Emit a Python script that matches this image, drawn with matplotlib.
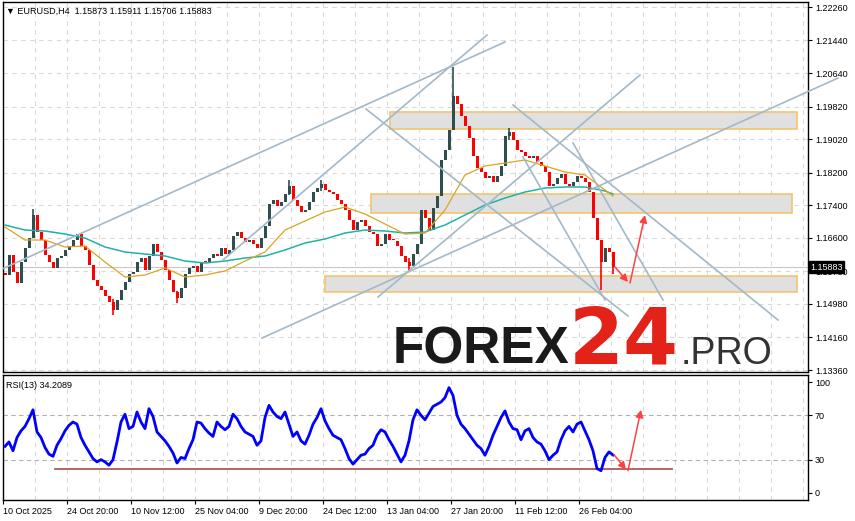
import numpy as np
import matplotlib
matplotlib.use('Agg')
import matplotlib.pyplot as plt
from matplotlib.patches import Rectangle

plt.rcParams['font.family'] = ['Liberation Sans', 'DejaVu Sans']

# H4 closes, one value per 4 bars
first_open = 1.15750
closes = [1.15689, 1.16179, 1.15763, 1.15493, 1.16008, 1.16351, 1.16596, 1.17160, 1.16743, 1.16547,
          1.16179, 1.16008, 1.15861, 1.16106, 1.16155, 1.16302, 1.16400, 1.16547, 1.16694, 1.16400,
          1.16302, 1.15934, 1.15566, 1.15419, 1.15321, 1.15174, 1.15027, 1.14831, 1.15076, 1.15321,
          1.15517, 1.15714, 1.15763, 1.16008, 1.16106, 1.15812, 1.16155, 1.16449, 1.16253, 1.16057,
          1.15812, 1.15566, 1.15272, 1.15125, 1.15370, 1.15714, 1.15861, 1.15910, 1.15763, 1.16008,
          1.15980, 1.16106, 1.16204, 1.16155, 1.16351, 1.16204, 1.16302, 1.16645, 1.16743, 1.16596,
          1.16498, 1.16547, 1.16449, 1.16351, 1.16596, 1.16890, 1.17430, 1.17528, 1.17381, 1.17479,
          1.17675, 1.17871, 1.17528, 1.17381, 1.17234, 1.17283, 1.17479, 1.17724, 1.17822, 1.17920,
          1.17773, 1.17724, 1.17675, 1.17528, 1.17430, 1.17283, 1.17038, 1.16792, 1.16989, 1.17038,
          1.16890, 1.16743, 1.16694, 1.16400, 1.16449, 1.16694, 1.16547, 1.16520, 1.16400, 1.16155,
          1.16008, 1.15910, 1.16204, 1.16449, 1.17283, 1.17087, 1.16792, 1.17332, 1.17626, 1.18509,
          1.18754, 1.19244, 1.20078, 1.19882, 1.19588, 1.19343, 1.19048, 1.18607, 1.18313, 1.18215,
          1.18067, 1.18117, 1.17969, 1.18117, 1.18362, 1.19097, 1.19195, 1.18999, 1.18754, 1.18705,
          1.18607, 1.18558, 1.18607, 1.18460, 1.18362, 1.18215, 1.17871, 1.17920, 1.18067, 1.18166,
          1.17920, 1.17871, 1.17969, 1.18117, 1.18067, 1.17969, 1.17724, 1.17087, 1.16547, 1.16008,
          1.16351, 1.16253, 1.15883]

# visible wicks
wick_idx = [7, 27, 43, 71, 79, 101, 112, 126, 149, 152]
wick_lo = [1.1660, 1.1471, 1.1500, 1.1765, 1.1775, 1.1576, 1.1995, 1.1900, 1.1532, 1.15706]
wick_hi = [1.1730, 1.1510, 1.1530, 1.1802, 1.1802, 1.1610, 1.2079, 1.1929, 1.1655, 1.15911]

# moving averages
ma_idx = list(range(0, 151, 5)) + [152]
ma_fast = [1.16866, 1.16547, 1.16547, 1.16376, 1.16400, 1.16008, 1.15640, 1.15689, 1.15861, 1.15640,
           1.15689, 1.15787, 1.16032, 1.16253, 1.16792, 1.17013, 1.17234, 1.17356, 1.17185, 1.16940,
           1.16694, 1.16719, 1.17283, 1.18141, 1.18362, 1.18435, 1.18509, 1.18362, 1.18215, 1.18141,
           1.17773, 1.17626]
ma_slow = [1.16915, 1.16792, 1.16768, 1.16694, 1.16596, 1.16376, 1.16253, 1.16204, 1.16155, 1.16032,
           1.15983, 1.16032, 1.16106, 1.16155, 1.16302, 1.16474, 1.16572, 1.16719, 1.16792, 1.16768,
           1.16719, 1.16743, 1.16915, 1.17160, 1.17405, 1.17577, 1.17724, 1.17822, 1.17847, 1.17847,
           1.17749, 1.17675]

rsi = [42, 46, 38, 50, 56, 60, 67, 75, 55, 50,
       41, 35, 33, 43, 49, 56, 61, 64, 62, 50,
       43, 37, 31, 28, 30, 28, 25, 30, 46, 64,
       71, 58, 60, 73, 64, 58, 76, 69, 55, 51,
       47, 42, 36, 27, 32, 31, 40, 48, 64, 63,
       58, 54, 51, 64, 60, 57, 60, 71, 67, 60,
       55, 53, 51, 43, 47, 68, 79, 73, 69, 67,
       73, 62, 51, 55, 47, 44, 52, 62, 68, 76,
       65, 58, 52, 50, 48, 40, 31, 26, 30, 34,
       35, 40, 43, 52, 57, 55, 48, 42, 35, 28,
       34, 47, 66, 75, 70, 66, 72, 78, 80, 82,
       86, 95, 88, 70, 62, 58, 53, 48, 43, 40,
       34, 42, 52, 60, 68, 74, 64, 58, 57, 48,
       56, 58, 50, 46, 44, 38, 30, 34, 37, 48,
       56, 60, 55, 62, 64, 56, 48, 38, 22, 20,
       32, 37, 34.2]

# drawn objects (bar index, price)
line_x0 = [-0.5, 54.5, 64.25, 93.25, 90.25, 127, 142, 129.5]
line_y0 = [1.15846, 1.16057, 1.14144, 1.15150, 1.19759, 1.19857, 1.18926, 1.18582]
line_x1 = [125, 120.5, 208.25, 158.75, 155.75, 193.25, 164.5, 150]
line_y1 = [1.21402, 1.21574, 1.20519, 1.20593, 1.14684, 1.14586, 1.15076, 1.15076]

zone_x0 = [96.25, 91.5, 80]
zone_x1 = [198, 196.75, 198]
zone_lo = [1.19269, 1.17209, 1.15272]
zone_hi = [1.19686, 1.17675, 1.15665]

arrow_x0 = [152.5, 156.25]
arrow_y0 = [1.15885, 1.15493]
arrow_x1 = [155.75, 160]
arrow_y1 = [1.15517, 1.17160]

rsi_arrow_x0 = [152.25, 155.75]
rsi_arrow_y0 = [34.5, 20]
rsi_arrow_x1 = [155.25, 159]
rsi_arrow_y1 = [21, 75]
rsi_support = [12.5, 166.75, 21.5]

last_price = 1.15883
price_ticks = [1.22260, 1.21440, 1.20640, 1.19820, 1.19020, 1.18200, 1.17400,
               1.16600, 1.15780, 1.14980, 1.14160, 1.13360]
date_bars = [0, 16, 32, 48, 64, 80, 96, 112, 128, 144]
date_labels = ['10 Oct 2025', '24 Oct 20:00', '10 Nov 12:00', '25 Nov 04:00', '9 Dec 20:00',
               '24 Dec 12:00', '13 Jan 04:00', '27 Jan 20:00', '11 Feb 12:00', '26 Feb 04:00']

W, H = 855, 521
fig = plt.figure(figsize=(W / 100, H / 100), dpi=100)


def box(x0, y0, x1, y1):
    return [x0 / W, 1 - y1 / H, (x1 - x0) / W, (y1 - y0) / H]


ax = fig.add_axes(box(3, 2, 808, 372))
rx = fig.add_axes(box(3, 375, 808, 500))
xlim = (-0.5, 200.75)
grid_pos = np.arange(-0.5, 200, 8)
grid_kw = dict(color='#dadada', lw=0.8, ls=(0, (4, 4)))

# ---- main price panel ----
closes = np.array(closes)
opens = np.concatenate([[first_open], closes[:-1]])
idx = np.arange(len(closes))
up = closes >= opens
cols = np.where(up, '#2f4f4f', '#ff0000')
body = closes - opens
body = np.where(np.abs(body) < 0.0003, 0.0003, body)

for x in grid_pos:
    ax.axvline(x, zorder=0, **grid_kw)
for p in price_ticks:
    ax.axhline(p, zorder=0, **grid_kw)
ax.axhline(last_price, color='#c8c8c8', lw=0.8, zorder=1)

for x0, x1, lo, hi in zip(zone_x0, zone_x1, zone_lo, zone_hi):
    ax.add_patch(Rectangle((x0, lo), x1 - x0, hi - lo, facecolor='#e0e0e0',
                           edgecolor='#f4c46c', lw=1.2, zorder=1))

ax.plot(ma_idx, ma_slow, color='#20b2aa', lw=1.1, zorder=3)
ax.plot(ma_idx, ma_fast, color='#daa520', lw=0.9, zorder=3)

ax.bar(idx, body, bottom=opens, width=0.75, color=cols, zorder=2)
for i, lo, hi in zip(wick_idx, wick_lo, wick_hi):
    ax.vlines(i, lo, hi, color=cols[i], lw=1.2, zorder=2)

for x0, y0, x1, y1 in zip(line_x0, line_y0, line_x1, line_y1):
    ax.plot([x0, x1], [y0, y1], color='#a3b8c8', lw=1.2, zorder=4, clip_on=False)

for x0, y0, x1, y1 in zip(arrow_x0, arrow_y0, arrow_x1, arrow_y1):
    ax.annotate('', xy=(x1, y1), xytext=(x0, y0),
                arrowprops=dict(arrowstyle='-|>', color='#ff4040', lw=1.1,
                                mutation_scale=11, shrinkA=0, shrinkB=0), zorder=5)

ax.set_xlim(*xlim)
ax.set_ylim(1.13311, 1.22383)
ax.yaxis.tick_right()
ax.set_yticks(price_ticks)
ax.set_yticklabels([f'{p:.5f}' for p in price_ticks], fontsize=6.5)
ax.tick_params(axis='y', length=3, width=0.8, pad=2)
ax.set_xticks([])
for s in ax.spines.values():
    s.set_color('black')
    s.set_linewidth(1)

ax.text(0.004, 0.988, '▼ EURUSD,H4  1.15873 1.15911 1.15706 1.15883',
        transform=ax.transAxes, va='top', ha='left', fontsize=6.5,
        family=['Liberation Sans', 'DejaVu Sans'])
ax.text(1.003, last_price, f'{last_price:.5f}', transform=ax.get_yaxis_transform(),
        va='center', ha='left', fontsize=6.5, color='white', zorder=10, clip_on=False,
        bbox=dict(boxstyle='square,pad=0.15', facecolor='black', edgecolor='black'))

# watermark
fig.text(393 / W, 1 - 364 / H, 'FOREX', fontsize=37, fontweight='bold',
         color='#1a1a1a', ha='left', va='baseline')
fig.text(569 / W, 1 - 364 / H, '24', fontsize=57, fontweight='bold',
         family='DejaVu Sans', color='#e32219', ha='left', va='baseline')
fig.text(681 / W, 1 - 364 / H, '.PRO', fontsize=27, color='#333333',
         ha='left', va='baseline')

# ---- RSI panel ----
for x in grid_pos:
    rx.axvline(x, zorder=0, **grid_kw)
for lvl in (30, 70):
    rx.axhline(lvl, color='#b0b0b0', lw=0.8, ls=(0, (4, 3)), zorder=0)
rx.plot(rsi_support[:2], [rsi_support[2]] * 2, color='#a85c5c', lw=1.3, zorder=2)
rx.plot(idx, rsi, color='#0000ff', lw=2, zorder=3)
for x0, y0, x1, y1 in zip(rsi_arrow_x0, rsi_arrow_y0, rsi_arrow_x1, rsi_arrow_y1):
    rx.annotate('', xy=(x1, y1), xytext=(x0, y0),
                arrowprops=dict(arrowstyle='-|>', color='#ff4040', lw=1.1,
                                mutation_scale=11, shrinkA=0, shrinkB=0), zorder=5)

rx.set_xlim(*xlim)
rx.set_ylim(-6.4, 106.4)
rx.yaxis.tick_right()
rx.set_yticks([0, 30, 70, 100])
rx.set_yticklabels(['0', '30', '70', '100'], fontsize=6.5)
rx.tick_params(axis='y', length=3, width=0.8, pad=2)
rx.set_xticks([b - 0.5 for b in date_bars])
rx.set_xticklabels(date_labels, fontsize=6.5)
for lab in rx.get_xticklabels():
    lab.set_ha('left')
rx.tick_params(axis='x', length=3, width=0.8, pad=2)
for s in rx.spines.values():
    s.set_color('black')
    s.set_linewidth(1)
rx.text(0.004, 0.95, f'RSI(13) {34.2089:.4f}', transform=rx.transAxes,
        va='top', ha='left', fontsize=6.5)

fig.savefig('out.png', dpi=100, facecolor='white')
